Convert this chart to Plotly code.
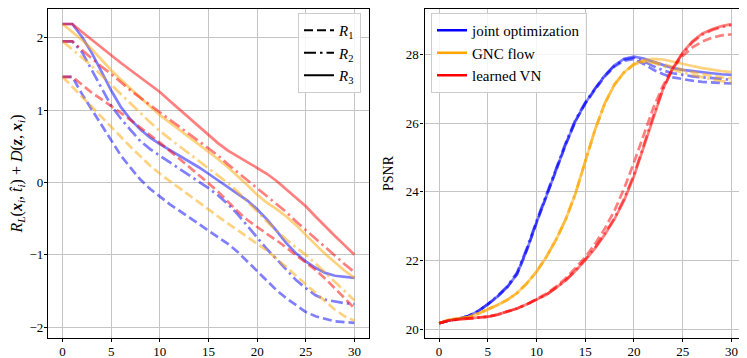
import plotly.graph_objects as go

iters = list(range(31))

# ---- left panel: R_L(x_i, t_i) + D(z, x_i) ----
joint_R1 = [1.46, 1.46, 1.22, 1.01, 0.79, 0.58, 0.37, 0.20, 0.04, -0.09, -0.20, -0.30, -0.39, -0.48, -0.57, -0.66,
            -0.76, -0.85, -0.96, -1.09, -1.23, -1.36, -1.49, -1.60, -1.70, -1.79, -1.85, -1.89, -1.92, -1.93, -1.94]
joint_R2 = [1.95, 1.95, 1.80, 1.55, 1.30, 1.06, 0.88, 0.73, 0.57, 0.46, 0.37, 0.28, 0.19, 0.11, 0.02, -0.08,
            -0.18, -0.30, -0.44, -0.60, -0.76, -0.92, -1.06, -1.20, -1.35, -1.46, -1.56, -1.62, -1.65, -1.67, -1.68]
joint_R3 = [2.19, 2.19, 2.01, 1.79, 1.53, 1.27, 1.04, 0.87, 0.73, 0.62, 0.53, 0.45, 0.38, 0.30, 0.21, 0.12,
            0.03, -0.06, -0.15, -0.25, -0.37, -0.51, -0.67, -0.84, -0.98, -1.09, -1.18, -1.25, -1.29, -1.31, -1.32]
gnc_R1 = [1.46, 1.32, 1.18, 1.04, 0.90, 0.76, 0.62, 0.49, 0.36, 0.23, 0.12, 0.02, -0.08, -0.18, -0.28, -0.37,
          -0.47, -0.57, -0.66, -0.76, -0.85, -0.94, -1.05, -1.17, -1.29, -1.41, -1.53, -1.65, -1.76, -1.85, -1.91]
gnc_R2 = [1.95, 1.84, 1.73, 1.61, 1.48, 1.35, 1.22, 1.08, 0.95, 0.83, 0.71, 0.60, 0.50, 0.40, 0.30, 0.20,
          0.10, -0.01, -0.13, -0.26, -0.40, -0.54, -0.67, -0.79, -0.90, -1.00, -1.12, -1.25, -1.38, -1.51, -1.63]
gnc_R3 = [2.19, 2.08, 1.97, 1.84, 1.69, 1.55, 1.42, 1.29, 1.17, 1.05, 0.93, 0.83, 0.73, 0.62, 0.52, 0.42,
          0.32, 0.21, 0.09, -0.04, -0.17, -0.28, -0.37, -0.47, -0.59, -0.73, -0.86, -0.99, -1.11, -1.22, -1.32]
vn_R1 = [1.46, 1.46, 1.35, 1.24, 1.15, 1.06, 0.96, 0.86, 0.76, 0.66, 0.55, 0.44, 0.33, 0.21, 0.10, -0.01,
         -0.13, -0.27, -0.40, -0.52, -0.62, -0.71, -0.80, -0.90, -1.00, -1.10, -1.21, -1.33, -1.46, -1.60, -1.74]
vn_R2 = [1.95, 1.95, 1.83, 1.71, 1.60, 1.50, 1.38, 1.27, 1.17, 1.07, 0.98, 0.87, 0.77, 0.67, 0.57, 0.47,
         0.37, 0.25, 0.14, 0.03, -0.07, -0.18, -0.29, -0.41, -0.54, -0.66, -0.78, -0.90, -1.02, -1.13, -1.24]
vn_R3 = [2.19, 2.19, 2.08, 1.97, 1.86, 1.75, 1.65, 1.55, 1.45, 1.35, 1.25, 1.13, 1.01, 0.89, 0.77, 0.65,
         0.54, 0.44, 0.36, 0.28, 0.20, 0.12, 0.02, -0.10, -0.21, -0.33, -0.47, -0.61, -0.74, -0.87, -1.00]

# ---- right panel: PSNR ----
joint_psnr_R1 = [20.17, 20.25, 20.30, 20.38, 20.52, 20.72, 20.95, 21.22, 21.60, 22.30, 23.10, 23.85, 24.62, 25.38,
                 26.06, 26.56, 26.97, 27.35, 27.64, 27.81, 27.86, 27.72, 27.55, 27.42, 27.33, 27.27, 27.23, 27.20,
                 27.18, 27.16, 27.15]
joint_psnr_R2 = [20.17, 20.25, 20.30, 20.38, 20.52, 20.73, 20.97, 21.25, 21.65, 22.35, 23.15, 23.90, 24.68, 25.43,
                 26.10, 26.60, 27.00, 27.38, 27.67, 27.85, 27.90, 27.80, 27.65, 27.53, 27.45, 27.40, 27.36, 27.33,
                 27.30, 27.28, 27.26]
joint_psnr_R3 = [20.17, 20.25, 20.30, 20.38, 20.52, 20.72, 20.95, 21.22, 21.60, 22.30, 23.10, 23.85, 24.62, 25.38,
                 26.06, 26.58, 27.00, 27.38, 27.68, 27.87, 27.93, 27.88, 27.78, 27.68, 27.60, 27.55, 27.51, 27.48,
                 27.45, 27.42, 27.40]
gnc_psnr_R1 = [20.17, 20.27, 20.31, 20.35, 20.45, 20.57, 20.70, 20.85, 21.05, 21.33, 21.67, 22.10, 22.60, 23.20,
               23.95, 24.88, 25.80, 26.57, 27.12, 27.48, 27.71, 27.80, 27.78, 27.72, 27.63, 27.55, 27.48, 27.42,
               27.37, 27.33, 27.30]
gnc_psnr_R2 = [20.17, 20.27, 20.31, 20.35, 20.45, 20.57, 20.70, 20.85, 21.05, 21.33, 21.67, 22.10, 22.60, 23.20,
               23.95, 24.88, 25.80, 26.57, 27.12, 27.48, 27.70, 27.78, 27.75, 27.65, 27.55, 27.47, 27.40, 27.33,
               27.27, 27.22, 27.19]
gnc_psnr_R3 = [20.17, 20.27, 20.31, 20.35, 20.45, 20.57, 20.70, 20.85, 21.05, 21.33, 21.67, 22.10, 22.60, 23.20,
               23.95, 24.88, 25.80, 26.57, 27.12, 27.48, 27.72, 27.83, 27.87, 27.85, 27.78, 27.72, 27.66, 27.60,
               27.55, 27.51, 27.48]
vn_psnr_R1 = [20.17, 20.25, 20.28, 20.30, 20.33, 20.36, 20.42, 20.50, 20.60, 20.72, 20.87, 21.03, 21.24, 21.48,
              21.78, 22.10, 22.48, 22.92, 23.45, 24.10, 24.85, 25.65, 26.45, 27.10, 27.60, 27.95, 28.20, 28.37,
              28.48, 28.55, 28.58]
vn_psnr_R2 = [20.17, 20.25, 20.28, 20.30, 20.33, 20.36, 20.42, 20.50, 20.60, 20.72, 20.85, 21.00, 21.20, 21.42,
              21.70, 22.02, 22.37, 22.78, 23.23, 23.80, 24.50, 25.35, 26.22, 27.00, 27.60, 28.03, 28.35, 28.57,
              28.70, 28.79, 28.85]
vn_psnr_R3 = [20.17, 20.25, 20.28, 20.30, 20.33, 20.36, 20.42, 20.50, 20.60, 20.72, 20.85, 21.00, 21.20, 21.42,
              21.70, 22.00, 22.35, 22.75, 23.20, 23.75, 24.45, 25.30, 26.20, 27.00, 27.60, 28.05, 28.38, 28.60,
              28.73, 28.82, 28.88]

methods = ["joint optimization", "GNC flow", "learned VN"]
reg_labels = ["<i>R</i><sub>1</sub>", "<i>R</i><sub>2</sub>", "<i>R</i><sub>3</sub>"]
x_ticks = [0, 5, 10, 15, 20, 25, 30]
left_yticks = [-2, -1, 0, 1, 2]
right_yticks = [20, 22, 24, 26, 28]

left_data = {
    "joint optimization": [joint_R1, joint_R2, joint_R3],
    "GNC flow": [gnc_R1, gnc_R2, gnc_R3],
    "learned VN": [vn_R1, vn_R2, vn_R3],
}
right_data = {
    "joint optimization": [joint_psnr_R1, joint_psnr_R2, joint_psnr_R3],
    "GNC flow": [gnc_psnr_R1, gnc_psnr_R2, gnc_psnr_R3],
    "learned VN": [vn_psnr_R1, vn_psnr_R2, vn_psnr_R3],
}

colors = {"joint optimization": "rgba(0,0,255,0.5)", "GNC flow": "rgba(255,165,0,0.5)",
          "learned VN": "rgba(255,0,0,0.5)"}
solid_colors = {"joint optimization": "#0000ff", "GNC flow": "#ffa500", "learned VN": "#ff0000"}
dashes = ["9px,4px", "12px,4px,2.5px,4px", "solid"]

FONT = "Liberation Serif"
# the page body has an 8px margin, so the figure is 8px smaller and offsets are shifted
OFF = 8
W, H = 747 - OFF, 358 - OFF


def px_x(p):
    return (p - OFF) / W


def px_y(p):
    return 1 - (p - OFF) / H


fig = go.Figure()

for m in methods:
    for k in range(3):
        fig.add_trace(go.Scatter(x=iters, y=left_data[m][k], mode="lines", showlegend=False,
                                 line=dict(color=colors[m], width=2.7, dash=dashes[k]),
                                 xaxis="x", yaxis="y"))
for m in methods:
    for k in range(3):
        fig.add_trace(go.Scatter(x=iters, y=right_data[m][k], mode="lines", showlegend=False,
                                 line=dict(color=colors[m], width=2.7, dash=dashes[k]),
                                 xaxis="x2", yaxis="y2"))

# legend entries
for k in range(3):
    fig.add_trace(go.Scatter(x=[None], y=[None], mode="lines", name=reg_labels[k], legend="legend",
                             line=dict(color="black", width=2, dash=dashes[k]), xaxis="x", yaxis="y"))
for m in methods:
    fig.add_trace(go.Scatter(x=[None], y=[None], mode="lines", name=m, legend="legend2",
                             line=dict(color=solid_colors[m], width=2.5), xaxis="x2", yaxis="y2"))

ax_common = dict(showline=True, linecolor="black", linewidth=1.2, mirror=True, ticks="outside",
                 ticklen=3, tickwidth=1, tickcolor="black", showgrid=True, gridcolor="#c4c4c4",
                 gridwidth=1.3, zeroline=False, automargin=False,
                 tickfont=dict(family=FONT, size=13, color="black"))

fig.update_layout(
    width=W, height=H, margin=dict(l=0, r=0, t=0, b=0, autoexpand=False),
    paper_bgcolor="white", plot_bgcolor="white",
    font=dict(family=FONT, size=14, color="black"),
    xaxis=dict(domain=[px_x(48), px_x(369)], range=[-1.5, 31.5], tickvals=x_ticks, anchor="y",
               ticklabelstandoff=-2, **ax_common),
    yaxis=dict(domain=[px_y(338), px_y(1 + OFF)], range=[-2.15, 2.397], tickvals=left_yticks, anchor="x",
               ticklabelstandoff=-2,
               title=dict(text="<i>R</i><sub><i>L</i></sub>(<b><i>x</i></b><sub><i>i</i></sub>, <i>t̂</i><sub><i>i</i></sub>) + <i>D</i>(<b><i>z</i></b>, <b><i>x</i></b><sub><i>i</i></sub>)",
                          standoff=8, font=dict(family=FONT, size=16)), **ax_common),
    xaxis2=dict(domain=[px_x(424.5), px_x(746)], range=[-1.5, 31.5], tickvals=x_ticks, anchor="y2",
                ticklabelstandoff=-2, **ax_common),
    yaxis2=dict(domain=[px_y(338), px_y(1 + OFF)], range=[19.74, 29.32], tickvals=right_yticks, anchor="x2",
                ticklabelstandoff=-1,
                title=dict(text="PSNR", standoff=8, font=dict(family=FONT, size=14)), **ax_common),
    legend=dict(x=px_x(298), y=px_y(5 + OFF), xanchor="left", yanchor="top", bgcolor="rgba(255,255,255,0.85)",
                bordercolor="#cccccc", borderwidth=1, font=dict(family=FONT, size=15),
                tracegroupgap=0, itemwidth=30),
    legend2=dict(x=px_x(431), y=px_y(5 + OFF), xanchor="left", yanchor="top", bgcolor="rgba(255,255,255,0.85)",
                 bordercolor="#cccccc", borderwidth=1, font=dict(family=FONT, size=15),
                 tracegroupgap=0, itemwidth=30),
)

fig.write_html("out.html")
